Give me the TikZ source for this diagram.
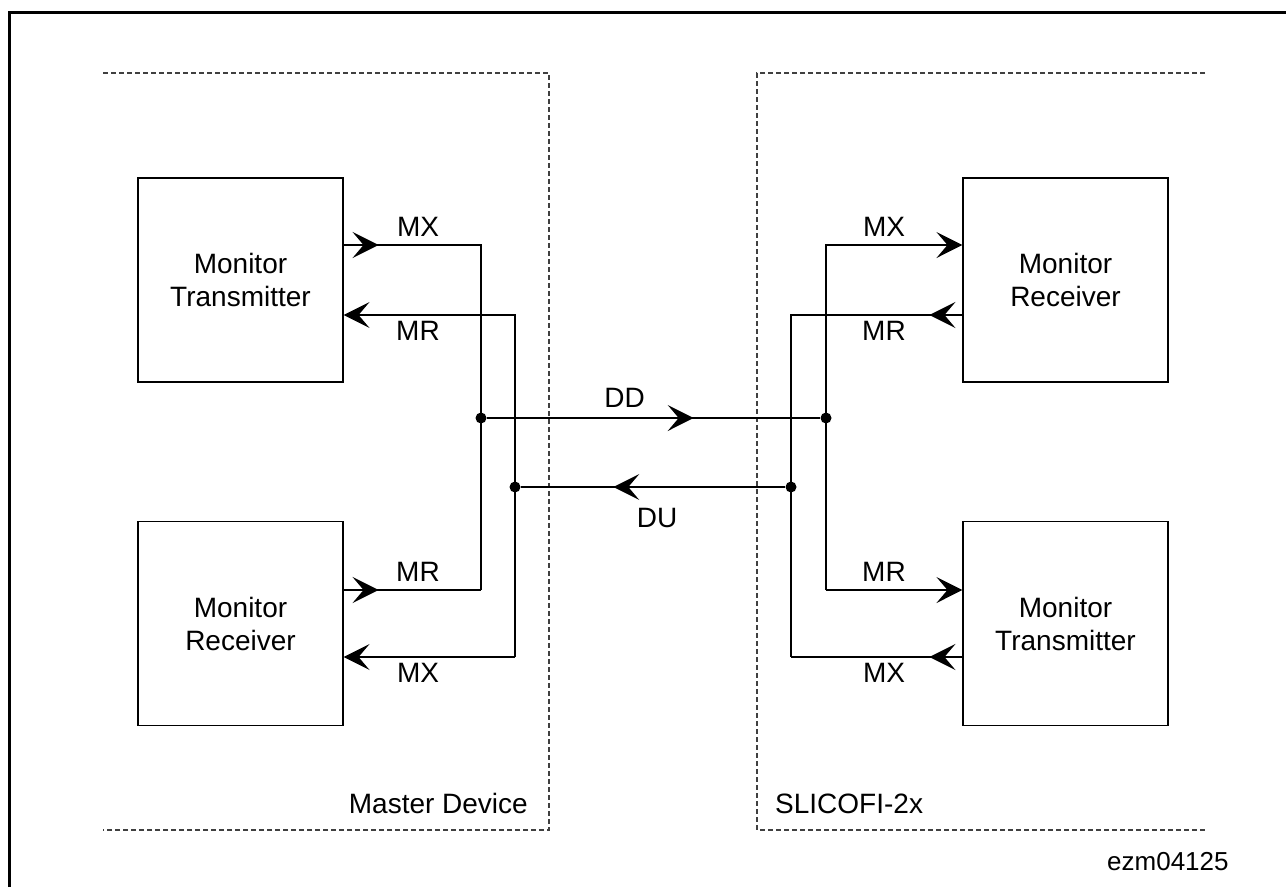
\documentclass[tikz,border=0pt]{standalone}
\usepackage{fontspec}
\setmainfont{Liberation Sans}
\usetikzlibrary{arrows.meta, decorations.markings}
\tikzset{
  chev/.tip={Stealth[length=26pt, width=26pt, inset=11pt]}
}

\begin{document}
\begin{tikzpicture}[
    x=1pt, y=-1pt,
    unit/.style={rectangle, draw, line width=1.1pt, minimum width=205pt,
                 minimum height=204pt, align=center, font=\fontsize{28}{33}\selectfont},
    wire/.style={line width=1.3pt},
    area/.style={draw=black!75, line width=1.2pt, dash pattern=on 5pt off 3pt},
    junction/.style={circle, fill, minimum size=11pt, inner sep=0pt},
    sig/.style={font=\fontsize{28}{33}\selectfont, anchor=base, inner sep=0pt},
    midarrow/.style={postaction={decorate},
                     decoration={markings, mark=at position #1 with {\arrow{chev}}}}
]
  \useasboundingbox (0,0) rectangle (1286,887);
  % outer frame
  \draw[line width=2.5pt] (9.5,887) -- (9.5,12.5) -- (1286,12.5);
  % device areas
  \draw[area] (103,73) -- (549,73) -- (549,830) -- (103,830);
  \draw[area] (1205,73) -- (757,73) -- (757,830) -- (1205,830);
  \node[sig, anchor=base east] (master) at (528,813) {Master Device};
  \node[sig, anchor=base west] (slic) at (775,813) {SLICOFI-2x};
  \node[sig, font=\fontsize{26}{30}\selectfont, anchor=base west] (fig) at (1107,870) {ezm04125};

  % monitor blocks
  \node[unit] (txL) at (240.5,280) {Monitor\\Transmitter};
  \node[unit] (rxL) at (240.5,623.5) {Monitor\\Receiver};
  \node[unit] (rxR) at (1065.5,280) {Monitor\\Receiver};
  \node[unit] (txR) at (1065.5,623.5) {Monitor\\Transmitter};

  % bus corners and junctions
  \coordinate (aL1) at (481,245);
  \coordinate (bL1) at (481,590);
  \coordinate (aL2) at (515,315);
  \coordinate (bL2) at (515,657);
  \coordinate (aR1) at (826,245);
  \coordinate (bR1) at (826,590);
  \coordinate (aR2) at (791,315);
  \coordinate (bR2) at (791,657);
  \node[junction] (dL) at (481,418) {};
  \node[junction] (uL) at (515,487) {};
  \node[junction] (dR) at (826,418) {};
  \node[junction] (uR) at (791,487) {};

  % master side
  \draw[wire, midarrow=35pt] (txL.east |- aL1) -- (aL1) -- (bL1);
  \draw[wire, midarrow=35pt] (rxL.east |- bL1) -- (bL1);
  \draw[wire, -chev] (bL2) -- (aL2) -- (txL.east |- aL2);
  \draw[wire, -chev] (bL2) -- (rxL.east |- bL2);

  % slicofi side
  \draw[wire, -chev] (bR1) -- (aR1) -- (rxR.west |- aR1);
  \draw[wire, -chev] (bR1) -- (txR.west |- bR1);
  \draw[wire, midarrow=33pt] (rxR.west |- aR2) -- (aR2) -- (bR2);
  \draw[wire, midarrow=33pt] (txR.west |- bR2) -- (bR2);

  % data lines
  \draw[wire, midarrow=207pt] (dL) -- (dR);
  \draw[wire, midarrow=172pt] (uR) -- (uL);

  % labels
  \node[sig] (mxL) at (418,236) {MX};
  \node[sig] (mrL) at (418,340) {MR};
  \node[sig] (mrL2) at (418,581) {MR};
  \node[sig] (mxL2) at (418,682) {MX};
  \node[sig] (mxR) at (884,236) {MX};
  \node[sig] (mrR) at (884,340) {MR};
  \node[sig] (mrR2) at (884,581) {MR};
  \node[sig] (mxR2) at (884,682) {MX};
  \node[sig] (dd) at (624.5,407) {DD};
  \node[sig] (du) at (657,527) {DU};
\end{tikzpicture}
\end{document}
